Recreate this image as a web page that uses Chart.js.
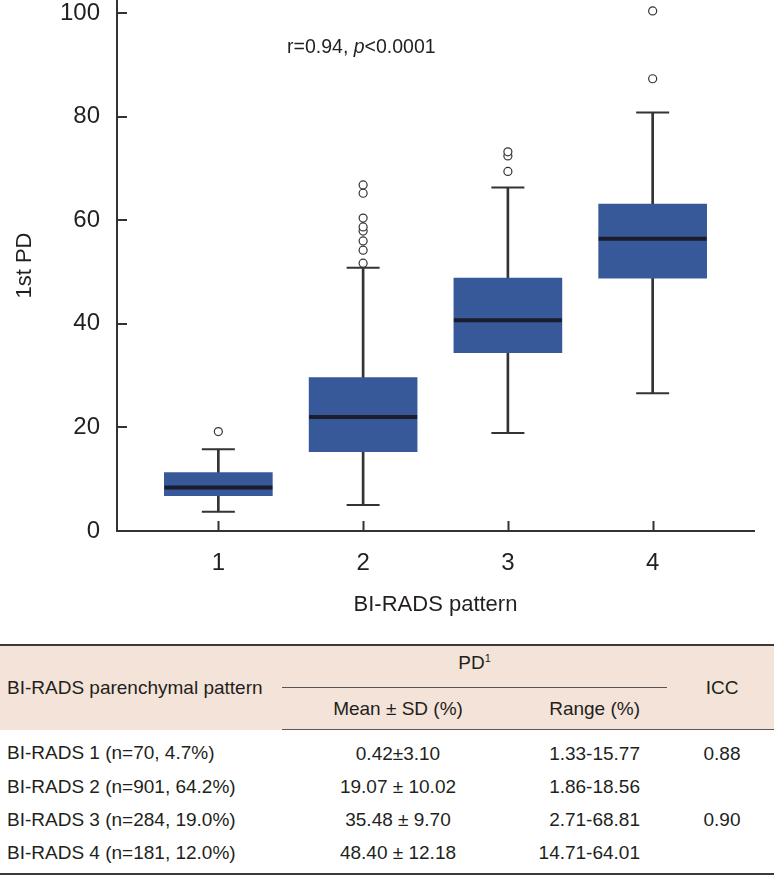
<!DOCTYPE html>
<html>
<head>
<meta charset="utf-8">
<script src="https://cdn.jsdelivr.net/npm/chart.js@4"></script>
<style>
  body { margin: 0; background: #fff; }
  #wrap { position: relative; width: 774px; height: 875px; font-family: 'Liberation Sans', Arial, sans-serif; color: #231f20; }
  canvas { position: absolute; left: 0; top: 0; }
  table { position: absolute; left: 0; top: 644px; width: 774px; border-collapse: collapse; font-size: 19px; table-layout: fixed; }
  thead { background: #f4e3d8; }
  thead tr:first-child th { border-top: 2px solid #3a3a3a; }
  th { font-weight: normal; padding: 0; }
  thead tr.sub th { border-bottom: 1.5px solid #5a5a5a; height: 41px; }
  .pd { border-bottom: 1px solid #555; height: 34px; padding-bottom: 7px; }
  td { padding: 0; height: 33px; }
  tbody tr:first-child td { padding-top: 7px; }
  tbody tr:last-child td { padding-bottom: 4px; border-bottom: 2px solid #3a3a3a; }
  .c1 { text-align: left; padding-left: 7px; }
  .c2 { text-align: center; }
  .c3 { text-align: right; padding-right: 27px; }
  .c4 { text-align: center; padding-left: 3px; }
</style>
</head>
<body>
<div id="wrap">
  <canvas id="chart-box" width="774" height="640"></canvas>
  <table id="pd-table">
    <colgroup><col style="width:282px"><col style="width:232px"><col style="width:153px"><col style="width:107px"></colgroup>
    <thead>
      <tr>
        <th class="c1" rowspan="2">BI-RADS parenchymal pattern</th>
        <th class="pd" colspan="2">PD<sup style="font-size:11px">1</sup></th>
        <th class="c4" rowspan="2" style="border-bottom:1.5px solid #5a5a5a">ICC</th>
      </tr>
      <tr class="sub"><th class="c2">Mean ± SD (%)</th><th class="c3">Range (%)</th></tr>
    </thead>
    <tbody id="pd-rows"></tbody>
  </table>
</div>
<script>
// Box plot values (1st PD by BI-RADS pattern)
const patterns = [1, 2, 3, 4];
const q1 = [6.8, 15.3, 34.4, 48.8];
const median = [8.4, 22.0, 40.7, 56.4];
const q3 = [11.3, 29.6, 48.8, 63.1];
const whiskerLow = [3.7, 5.0, 18.9, 26.6];
const whiskerHigh = [15.8, 50.8, 66.3, 80.8];
const outliers = [
    [19.2],
    [51.7, 54.2, 56.0, 57.9, 58.7, 60.4, 65.2, 66.8],
    [69.4, 72.4, 73.2],
    [87.3, 100.4],
];
const yTicks = [0, 20, 40, 60, 80, 100];

// Table values
const rowLabels = ['BI-RADS 1 (n=70, 4.7%)', 'BI-RADS 2 (n=901, 64.2%)', 'BI-RADS 3 (n=284, 19.0%)', 'BI-RADS 4 (n=181, 12.0%)'];
const meanSd = ['0.42±3.10', '19.07 ± 10.02', '35.48 ± 9.70', '48.40 ± 12.18'];
const ranges = ['1.33-15.77', '1.86-18.56', '2.71-68.81', '14.71-64.01'];
const icc = ['0.88', '', '0.90', ''];

const FONT = "'Liberation Sans', Arial, sans-serif";
const TEXT = '#231f20';
const AXIS = '#333333';
const BOX = '#37599a';

let rows = '';
rowLabels.forEach((lab, i) => {
    rows += `<tr><td class="c1">${lab}</td><td class="c2">${meanSd[i]}</td><td class="c3">${ranges[i]}</td><td class="c4">${icc[i]}</td></tr>`;
});
document.getElementById('pd-rows').innerHTML = rows;

// inward tick marks + the correlation note
const innerTicks = {
    id: 'innerTicks',
    afterDraw(chart) {
        const { ctx, scales: { x, y } } = chart;
        ctx.save();
        ctx.strokeStyle = AXIS;
        ctx.lineWidth = 2;
        ctx.beginPath();
        yTicks.forEach(v => {
            const py = Math.round(y.getPixelForValue(v));
            ctx.moveTo(x.left, py); ctx.lineTo(x.left + 10, py);
        });
        patterns.forEach(v => {
            const px = Math.round(x.getPixelForValue(v)) + 0.5;
            ctx.moveTo(px, y.bottom); ctx.lineTo(px, y.bottom - 10);
        });
        ctx.stroke();
        // r=0.94, p<0.0001
        const parts = [['r=0.94, ', ''], ['p', 'italic '], ['<0.0001', '']];
        let cx = x.getPixelForValue(1.475);
        const cy = y.getPixelForValue(93.4);
        ctx.fillStyle = TEXT;
        ctx.textBaseline = 'middle';
        ctx.textAlign = 'left';
        parts.forEach(([t, st]) => {
            ctx.font = `${st}19.5px ${FONT}`;
            ctx.fillText(t, cx, cy);
            cx += ctx.measureText(t).width;
        });
        ctx.restore();
    }
};

const outlierPts = [];
outliers.forEach((vals, i) => vals.forEach(v => outlierPts.push({ x: patterns[i], y: v })));

const ctx = document.getElementById('chart-box').getContext('2d');
new Chart(ctx, {
    type: 'bar',
    data: {
        datasets: [
            { type: 'scatter', label: 'median', order: 0,
                data: patterns.map((p, i) => ({ x: p, y: median[i] })),
                pointStyle: 'line', pointRadius: 54, borderWidth: 4, borderColor: '#1b1c2c' },
            { type: 'scatter', label: 'outliers', order: 1, data: outlierPts,
                pointStyle: 'circle', pointRadius: 4, borderWidth: 1.2, borderColor: AXIS, backgroundColor: '#fff' },
            { label: 'box', order: 2,
                data: patterns.map((p, i) => ({ x: p, y: [q1[i], q3[i]] })),
                backgroundColor: BOX, borderWidth: 0, barThickness: 108, grouped: false },
            { type: 'scatter', label: 'caps', order: 3,
                data: patterns.flatMap((p, i) => [{ x: p, y: whiskerHigh[i] }, { x: p, y: whiskerLow[i] }]),
                pointStyle: 'line', pointRadius: 16.5, borderWidth: 2, borderColor: AXIS },
            { label: 'whisker', order: 4,
                data: patterns.map((p, i) => ({ x: p, y: [whiskerLow[i], whiskerHigh[i]] })),
                backgroundColor: AXIS, borderWidth: 0, barThickness: 2, grouped: false },
        ],
    },
    options: {
        responsive: false,
        animation: false,
        layout: { autoPadding: false, padding: { left: 0, right: 20, top: 0, bottom: 0 } },
        plugins: { legend: { display: false }, tooltip: { enabled: false } },
        scales: {
            x: {
                type: 'linear', min: 0.3, max: 4.7, offset: false,
                afterBuildTicks: s => { s.ticks = patterns.map(v => ({ value: v })); },
                afterFit: s => { s.height = 109; s.paddingLeft = 0; s.paddingRight = 0; },
                grid: { display: false, drawTicks: false },
                border: { display: true, color: AXIS, width: 2 },
                ticks: { color: TEXT, font: { family: FONT, size: 24 }, padding: 18 },
                title: { display: true, text: 'BI-RADS pattern', color: TEXT,
                    font: { family: FONT, size: 22 }, padding: { top: 4, bottom: 22 } },
            },
            y: {
                min: 0, max: 102.5,
                afterBuildTicks: s => { s.ticks = yTicks.map(v => ({ value: v })); },
                afterFit: s => { s.width = 117; s.paddingTop = 0; s.paddingBottom = 0; },
                grid: { display: false, drawTicks: false },
                border: { display: true, color: AXIS, width: 2 },
                ticks: { color: TEXT, font: { family: FONT, size: 24 }, padding: 17 },
                title: { display: true, text: '1st PD', color: TEXT,
                    font: { family: FONT, size: 22 }, padding: { top: 12, bottom: 0 } },
            },
        },
    },
    plugins: [innerTicks],
});
</script>
</body>
</html>
